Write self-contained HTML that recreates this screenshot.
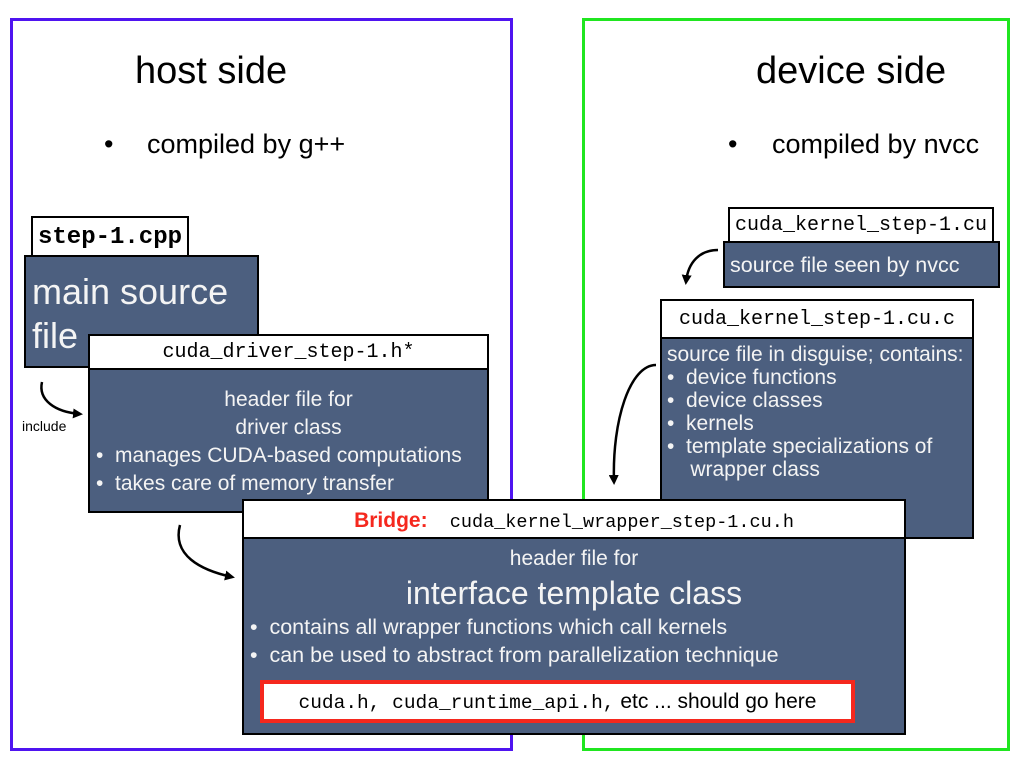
<!DOCTYPE html>
<html><head><meta charset="utf-8"><style>
body{margin:0;width:1024px;height:768px;background:#fff;position:relative;overflow:hidden;font-family:"Liberation Sans",sans-serif}
.a{position:absolute;box-sizing:border-box}
.frame{border:3px solid}
.hd{background:#fff;border:2px solid #000;font-family:"Liberation Mono",monospace;color:#000;text-align:center}
.bd{background:#4c5f7f;border:2px solid #000;color:#f4f4f4}
.t{position:absolute;white-space:nowrap}
</style></head><body>
<div class="a frame" style="left:10px;top:18px;width:503px;height:733px;border-color:#4f14f0"></div>
<div class="a frame" style="left:582px;top:18px;width:428px;height:733px;border-color:#20e620"></div>
<div class="t" style="left:135px;top:50px;font-size:38px">host side</div>
<div class="t" style="left:756px;top:50px;font-size:38px">device side</div>
<div class="t" style="left:104px;top:129px;font-size:27px">•<span style="position:absolute;left:43px">compiled by g++</span></div>
<div class="t" style="left:728px;top:129px;font-size:27px">•<span style="position:absolute;left:44px">compiled by nvcc</span></div>

<div class="a hd" style="left:31px;top:216px;width:158px;height:41px;font-size:24px;line-height:40px;font-weight:bold">step-1.cpp</div>
<div class="a bd" style="left:24px;top:255px;width:235px;height:113px;font-size:36px;line-height:44px;padding:13px 0 0 6px">main source<br>file</div>

<div class="a hd" style="left:88px;top:334px;width:401px;height:36px;font-size:20px;line-height:34px">cuda_driver_step-1.h*</div>
<div class="a bd" style="left:88px;top:368px;width:401px;height:145px;font-size:21px;line-height:28px;padding-top:16px">
<div style="text-align:center">header file for<br>driver class</div>
<div style="padding-left:6px">•&nbsp; manages CUDA-based computations<br>•&nbsp; takes care of memory transfer</div></div>

<div class="a hd" style="left:728px;top:207px;width:266px;height:36px;font-size:20px;line-height:34px">cuda_kernel_step-1.cu</div>
<div class="a bd" style="left:723px;top:241px;width:277px;height:47px;font-size:21.5px;line-height:44px;padding-left:5px">source file seen by nvcc</div>

<div class="a hd" style="left:660px;top:299px;width:314px;height:40px;font-size:20px;line-height:38px">cuda_kernel_step-1.cu.c</div>
<div class="a bd" style="left:660px;top:337px;width:314px;height:202px;font-size:21px;line-height:23px;padding:4px 0 0 5px">source file in disguise; contains:<br>•&nbsp; device functions<br>•&nbsp; device classes<br>•&nbsp; kernels<br>•&nbsp; template specializations of<br>&nbsp;&nbsp;&nbsp; wrapper class</div>

<div class="a hd" style="left:242px;top:499px;width:664px;height:40px;font-size:18.5px;line-height:40px"><span style="font-family:'Liberation Sans',sans-serif;color:#f5281e;font-weight:bold;font-size:21px">Bridge:</span>&nbsp; cuda_kernel_wrapper_step-1.cu.h</div>
<div class="a bd" style="left:242px;top:537px;width:664px;height:198px;padding-top:6px">
<div style="text-align:center;font-size:21px;line-height:28px">header file for</div>
<div style="text-align:center;font-size:32px;line-height:40px">interface template class</div>
<div style="font-size:21.5px;line-height:28px;padding-left:6px">•&nbsp; contains all wrapper functions which call kernels<br>•&nbsp; can be used to abstract from parallelization technique</div></div>
<div class="a" style="left:260px;top:680px;width:595px;height:43px;background:#fff;border:4px solid #f5281e;text-align:center;font-size:21px;line-height:35px;color:#000"><span style="font-family:'Liberation Mono',monospace;font-size:19.5px">cuda.h, cuda_runtime_api.h,</span> etc ... should go here</div>

<div class="t" style="left:22px;top:418px;font-size:14px">include</div>
<svg class="a" style="left:0;top:0" width="1024" height="768">
<defs><marker id="ar" markerWidth="10" markerHeight="10" refX="7" refY="5" orient="auto" markerUnits="userSpaceOnUse"><path d="M0,0 L10,5 L0,10z" fill="#000"/></marker></defs>
<g fill="none" stroke="#000" stroke-width="2.5" marker-end="url(#ar)">
<path d="M42,382 C38,400 55,412 80,414"/>
<path d="M180,525 C172,555 200,570 232,577"/>
<path d="M718,250 C700,250 688,262 686,282"/>
<path d="M656,365 C630,365 612,420 614,482"/>
</g></svg>
</body></html>
